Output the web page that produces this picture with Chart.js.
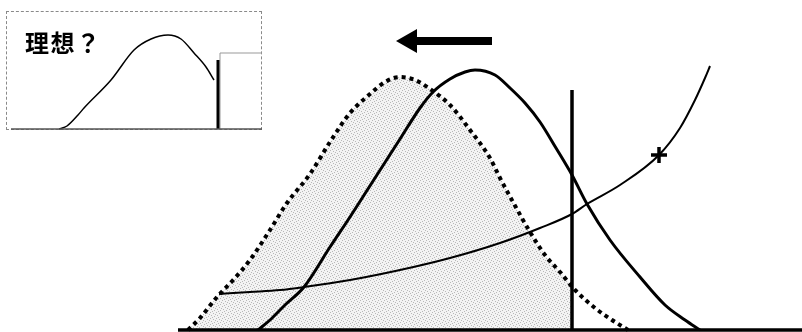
<!DOCTYPE html>
<html>
<head>
<meta charset="utf-8">
<script src="https://cdn.jsdelivr.net/npm/chart.js@4/dist/chart.umd.min.js"></script>
<style>
  body { margin: 0; background: #fff; }
  #main { position: absolute; left: 0; top: 0; }
  #inset { position: absolute; left: 6px; top: 11px; width: 256px; height: 119px; border: 1px dashed #8a8a8a; box-sizing: border-box; }
  #insetCanvas { position: absolute; left: -1px; top: -1px; }
  #label { position: absolute; left: 18px; top: 12px; line-height: 1; font: bold 24px "Noto Sans CJK JP", sans-serif; color: #000; letter-spacing: 1.5px; }
</style>
</head>
<body>
<canvas id="main" width="802" height="332"></canvas>
<div id="inset">
  <canvas id="insetCanvas" width="256" height="119"></canvas>
  <div id="label">理想？</div>
</div>
<script>
// main chart: x = position, y = height above baseline
var shiftedX = [188, 200, 217, 235, 250, 270, 287, 310, 330, 350, 370, 385, 400, 415, 430, 450, 470, 490, 500, 513, 530, 545, 560, 575, 595, 612, 628];
var shiftedY = [0, 12, 33, 52, 70, 100, 127, 156, 188, 217, 236, 248, 253, 250, 241, 225, 200, 172, 152, 128, 98, 75, 58, 40, 22, 10, 0];

var currentX = [258, 270, 285, 304, 330, 350, 375, 400, 420, 433, 450, 465, 475, 495, 510, 525, 540, 556, 572, 587, 610, 640, 665, 685, 700];
var currentY = [0, 10, 25, 43, 83, 113, 152, 191, 222, 238, 251, 258, 260, 255, 242, 227, 208, 182, 155, 126, 90, 53, 25, 10, 0];

var costX = [219, 250, 280, 304, 350, 400, 450, 500, 540, 572, 587, 620, 659, 680, 695, 705, 710];
var costY = [36, 38, 40, 43, 50, 60, 72, 87, 102, 116, 126, 145, 175, 202, 230, 252, 264];

var limitX = 572;
var limitTop = 240;
var markX = 659;
var markY = 175;
var baseRange = [178, 802];
var arrowX = [410, 492];
var arrowY = 289;

// inset chart
var idealX = [58, 66, 77, 83, 110, 133, 150, 167, 180, 193, 205, 213];
var idealY = [0, 3, 14, 21, 49, 79, 90, 94, 90, 76, 62, 49];
var idealLimitX = 217;
var idealLimitTop = 69;
var insetBox = [219, 262];
var insetBoxTop = 76;

function pts(xs, ys) { return xs.map(function (x, i) { return { x: x, y: ys[i] }; }); }

// speckled grey fill like the scanned original
var pc = document.createElement('canvas');
pc.width = 6; pc.height = 6;
var pctx = pc.getContext('2d');
pctx.fillStyle = '#f3f3f3';
pctx.fillRect(0, 0, 6, 6);
pctx.fillStyle = '#b8b8b8';
[[0, 0], [3, 1], [1, 3], [4, 4], [5, 2], [2, 5]].forEach(function (p) { pctx.fillRect(p[0], p[1], 1, 1); });
var speckle = pctx.createPattern(pc, 'repeat');

var shadeX = shiftedX.filter(function (x) { return x < limitX; });
var shadePts = pts(shadeX, shiftedY.slice(0, shadeX.length));
shadePts.push({ x: limitX, y: 44 });

var common = { pointRadius: 0, fill: false, borderColor: '#000', cubicInterpolationMode: 'monotone', order: 0 };

new Chart(document.getElementById('main'), {
  type: 'line',
  data: {
    datasets: [
      Object.assign({}, common, { data: shadePts, borderWidth: 0, fill: 'origin', backgroundColor: speckle, order: 5 }),
      Object.assign({}, common, { data: [{ x: baseRange[0], y: 0 }, { x: baseRange[1], y: 0 }], borderWidth: 3.5 }),
      Object.assign({}, common, { data: pts(shiftedX, shiftedY), borderWidth: 4, borderDash: [4, 4] }),
      Object.assign({}, common, { data: pts(currentX, currentY), borderWidth: 3 }),
      Object.assign({}, common, { data: pts(costX, costY), borderWidth: 2 }),
      Object.assign({}, common, { data: [{ x: limitX, y: 0 }, { x: limitX, y: limitTop }], borderWidth: 3.5, tension: 0 }),
      { data: [{ x: markX, y: markY }], showLine: false, pointStyle: 'cross', pointRadius: 8, pointBorderWidth: 3.5, borderColor: '#000', order: 0 },
      { data: [{ x: arrowX[0], y: arrowY }, { x: arrowX[1], y: arrowY }], borderColor: '#000', backgroundColor: '#000', borderWidth: 8,
        pointStyle: 'triangle', pointRadius: [14, 0], pointRotation: -90, pointBorderWidth: 0, tension: 0, order: 0 }
    ]
  },
  options: {
    responsive: false, animation: false, devicePixelRatio: 1,
    layout: { padding: 0, autoPadding: false },
    plugins: { legend: { display: false }, tooltip: { enabled: false } },
    scales: {
      x: { type: 'linear', min: 0, max: 802, display: false },
      y: { min: -2, max: 330, display: false }
    }
  }
});

new Chart(document.getElementById('insetCanvas'), {
  type: 'line',
  data: {
    datasets: [
      Object.assign({}, common, { data: [{ x: 10, y: 0 }, { x: 262, y: 0 }], borderWidth: 1.5, borderColor: '#555' }),
      Object.assign({}, common, { data: pts(idealX, idealY), borderWidth: 1.5 }),
      Object.assign({}, common, { data: [{ x: idealLimitX, y: 0 }, { x: idealLimitX, y: idealLimitTop }], borderWidth: 3, tension: 0 }),
      Object.assign({}, common, { data: [{ x: insetBox[0], y: 0 }, { x: insetBox[0], y: insetBoxTop }, { x: insetBox[1], y: insetBoxTop }],
        borderWidth: 1, borderColor: '#999', tension: 0, cubicInterpolationMode: 'default' })
    ]
  },
  options: {
    responsive: false, animation: false, devicePixelRatio: 1,
    layout: { padding: 0, autoPadding: false },
    plugins: { legend: { display: false }, tooltip: { enabled: false } },
    scales: {
      x: { type: 'linear', min: 5, max: 261, display: false },
      y: { min: -1, max: 118, display: false }
    }
  }
});
</script>
</body>
</html>
